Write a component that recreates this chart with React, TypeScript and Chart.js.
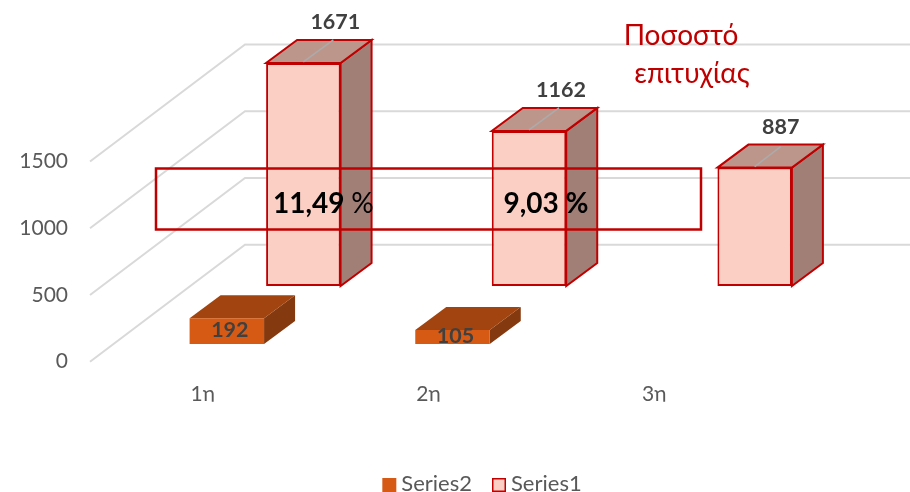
import React, { useEffect, useRef } from "react";
import { Chart, registerables } from "chart.js";

Chart.register(...registerables);

const categories = ["1η", "2η", "3η"];
const series1Values = [1671, 1162, 887];
const series2Values: (number | null)[] = [192, 105, null];
const axisTicks = [0, 500, 1000, 1500];
const titleLines = ["Ποσοστό", "επιτυχίας"];
const rateLabels = ["11,49 ", "9,03 "];

const FONT = "Lato, 'Noto Sans', sans-serif";
const TICK = "#595959";
const RED = "#C00000";

// per-dataset look of the 3D box: where it sits in the depth of the plot, and face colours
const looks: Record<string, any> = {
  Series2: { dx: 24, dy: -17.7, side: "#84390E", top: "#A1440F", line: null },
  Series1: { dx: 100.5, dy: -75.7, side: "#A27F76", top: "#BD968B", line: RED },
};
const DEPTH_X = 31;
const DEPTH_Y = 23;

const wallPlugin = {
  id: "wall",
  beforeDatasetsDraw(chart: any) {
    const { ctx, scales, width } = chart;
    ctx.save();
    ctx.strokeStyle = "#D9D9D9";
    ctx.lineWidth = 2;
    for (const v of axisTicks) {
      const y = scales.y.getPixelForValue(v);
      ctx.beginPath();
      ctx.moveTo(scales.x.left, y);
      ctx.lineTo(scales.x.left + 155, y - 117);
      ctx.lineTo(width, y - 117);
      ctx.stroke();
    }
    ctx.restore();
  },
};

const boxPlugin = {
  id: "box",
  beforeDatasetDraw(chart: any, args: any) {
    const { ctx } = chart;
    const ds = chart.data.datasets[args.index];
    const look = looks[ds.label];
    const meta = chart.getDatasetMeta(args.index);
    ctx.save();
    ctx.translate(look.dx, look.dy);
    meta.data.forEach((bar: any, i: number) => {
      if (ds.data[i] == null) return;
      const x0 = bar.x - bar.width / 2;
      const x1 = bar.x + bar.width / 2;
      const faces = [
        { c: look.side, p: [[x1, bar.y], [x1, bar.base], [x1 + DEPTH_X, bar.base - DEPTH_Y], [x1 + DEPTH_X, bar.y - DEPTH_Y]] },
        { c: look.top, p: [[x0, bar.y], [x1, bar.y], [x1 + DEPTH_X, bar.y - DEPTH_Y], [x0 + DEPTH_X, bar.y - DEPTH_Y]] },
      ];
      for (const f of faces) {
        ctx.beginPath();
        f.p.forEach(([px, py]: number[], k: number) => (k ? ctx.lineTo(px, py) : ctx.moveTo(px, py)));
        ctx.closePath();
        ctx.fillStyle = f.c;
        ctx.fill();
        if (look.line) {
          ctx.strokeStyle = look.line;
          ctx.lineWidth = 2;
          ctx.stroke();
        }
      }
      if (look.line) {
        // leader from the front edge to the value label
        const shrink = i === 2 ? 5 : 1;
        ctx.beginPath();
        ctx.moveTo(bar.x, bar.y - 1);
        ctx.lineTo(bar.x + DEPTH_X - shrink, bar.y - DEPTH_Y + (i === 2 ? 2 : 0));
        ctx.strokeStyle = "#ABABAB";
        ctx.lineWidth = 1.5;
        ctx.stroke();
      }
    });
  },
  afterDatasetDraw(chart: any) {
    chart.ctx.restore();
  },
};

const overlayPlugin = {
  id: "overlay",
  afterDraw(chart: any) {
    const { ctx, scales } = chart;
    ctx.save();
    ctx.textBaseline = "middle";
    ctx.textAlign = "center";

    // value labels
    ctx.font = `bold 21.5px ${FONT}`;
    ctx.fillStyle = "#404040";
    chart.data.datasets.forEach((ds: any, di: number) => {
      const look = looks[ds.label];
      chart.getDatasetMeta(di).data.forEach((bar: any, i: number) => {
        const v = ds.data[i];
        if (v == null) return;
        if (look.line) {
          const nudge = i === 2 ? -6 : 0;
          ctx.fillText(String(v), bar.x + look.dx + DEPTH_X + 1 + nudge, bar.y + look.dy - DEPTH_Y - 18);
        } else {
          ctx.fillText(String(v), bar.x + look.dx + 3, (bar.y + bar.base) / 2 + look.dy - 1);
        }
      });
    });

    // the frame over the bars
    const top = scales.y.getPixelForValue(1500) + 7;
    ctx.strokeStyle = RED;
    ctx.lineWidth = 2.5;
    ctx.strokeRect(156, top, 545, 61);

    // rates inside the frame
    const s1 = chart.getDatasetMeta(1).data;
    rateLabels.forEach((t, i) => {
      ctx.textAlign = "left";
      ctx.font = `bold 28px ${FONT}`;
      const w = ctx.measureText(t).width;
      ctx.font = `${i === 0 ? "normal" : "bold"} 28px ${FONT}`;
      const pw = ctx.measureText("%").width;
      const cx = s1[i].x + looks.Series1.dx + (i === 0 ? 20 : 17);
      const x = cx - (w + pw) / 2;
      ctx.fillStyle = "#000000";
      ctx.font = `bold 28px ${FONT}`;
      ctx.fillText(t, x, 203.5);
      ctx.font = `${i === 0 ? "normal" : "bold"} 28px ${FONT}`;
      ctx.fillText("%", x + w, 203.5);
    });

    // title
    ctx.textAlign = "center";
    ctx.fillStyle = RED;
    ctx.font = `28px ${FONT}`;
    ctx.fillText(titleLines[0], 681, 36);
    ctx.fillText(titleLines[1], 692, 74);

    // legend
    ctx.font = `22px ${FONT}`;
    const items = chart.data.datasets.map((d: any) => ({
      label: d.label,
      fill: d.backgroundColor,
      line: d.borderWidth ? d.borderColor : null,
      w: ctx.measureText(d.label).width,
    }));
    const total = items.reduce((a: number, it: any) => a + 14 + 5 + it.w, 0) + 20 * (items.length - 1);
    let x = 482 - total / 2;
    const ly = 485;
    for (const it of items) {
      ctx.fillStyle = it.fill;
      ctx.fillRect(x, ly - 7, 14, 14);
      if (it.line) {
        ctx.strokeStyle = it.line;
        ctx.lineWidth = 1.5;
        ctx.strokeRect(x + 0.75, ly - 6.25, 12.5, 12.5);
      }
      ctx.fillStyle = TICK;
      ctx.textAlign = "left";
      ctx.fillText(it.label, x + 19, ly - 1);
      x += 14 + 5 + it.w + 20;
    }
    ctx.restore();
  },
};

export default function App() {
  const ref = useRef<HTMLCanvasElement>(null);
  useEffect(() => {
    document.body.style.margin = "0";
    const chart = new Chart(ref.current as HTMLCanvasElement, {
      type: "bar",
      data: {
        labels: categories,
        datasets: [
          { label: "Series2", data: series2Values, backgroundColor: "#D65A14", borderWidth: 0, clip: false, grouped: false } as any,
          { label: "Series1", data: series1Values, backgroundColor: "#FBCFC4", borderColor: RED, borderWidth: 2, borderSkipped: false, clip: false, grouped: false } as any,
        ],
      },
      options: {
        responsive: false,
        animation: false,
        devicePixelRatio: 1,
        layout: { padding: { left: 0, top: 161.5, right: 143, bottom: 90.3 } },
        datasets: { bar: { categoryPercentage: 1, barPercentage: 0.33 } },
        plugins: { legend: { display: false }, tooltip: { enabled: false } },
        scales: {
          x: {
            grid: { display: false, drawTicks: false },
            border: { display: false },
            ticks: { color: TICK, font: { family: FONT, size: 21 }, padding: 20, maxRotation: 0 },
            afterFit: (a: any) => { a.height = 40; },
          },
          y: {
            min: 0,
            max: 1500,
            grid: { display: false, drawTicks: false },
            border: { display: false },
            ticks: { stepSize: 500, color: TICK, font: { family: FONT, size: 21 }, padding: 22, callback: (v: any) => String(v) },
            afterFit: (a: any) => { a.width = 90; },
          },
        },
      } as any,
      plugins: [wallPlugin, boxPlugin, overlayPlugin],
    });
    return () => chart.destroy();
  }, []);
  return <canvas ref={ref} width={910} height={492} style={{ display: "block" }} />;
}
